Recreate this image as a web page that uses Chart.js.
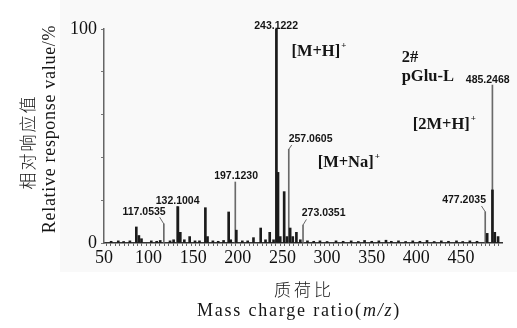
<!DOCTYPE html>
<html>
<head>
<meta charset="utf-8">
<script src="https://cdn.jsdelivr.net/npm/chart.js@4.4.1/dist/chart.umd.min.js"></script>
<style>
  html, body { margin: 0; padding: 0; background: #fff; }
</style>
</head>
<body>
<canvas id="msChart" width="517" height="328"></canvas>
<script>

// stick peaks: m/z and relative intensity (%)
const peakMz = [58, 66, 72, 79, 86.2, 89.1, 92, 103, 109, 113, 124, 128,
    132.8, 135.5, 140, 146, 152, 157, 163.6, 166, 172, 178, 184, 189.7, 192,
    198.3, 205, 211, 217.5, 225.6, 231, 235.7, 240, 243.2, 245, 247.5, 251.9,
    255, 258.6, 261.5, 265.6, 270, 278, 285, 292, 300, 310, 318, 327, 335,
    342, 350, 358, 366, 372, 380, 388, 396, 404, 412, 420, 428, 436, 445,
    452, 460, 468, 479.4, 485.3, 487.9, 491.6];
const peakInt = [0.8, 1, 0.7, 1, 7.5, 3.5, 2, 1, 0.8, 1.2, 1, 1.5,
    17, 5, 1.5, 3, 1, 1, 16.5, 3, 1, 0.8, 1.2, 14.5, 1.5,
    6, 1, 1, 2.5, 7, 1.5, 5, 1.5, 100, 33, 3, 24,
    3, 7, 3, 5, 1.5, 1, 0.8, 1, 0.7, 1, 0.8, 1, 0.7,
    1.2, 0.8, 1, 1.3, 0.8, 1, 0.7, 1, 0.8, 1.2, 0.7, 1, 0.8, 1,
    0.7, 1, 0.8, 4.5, 24.8, 5, 3];

// labelled peaks (thin lines) and their labels
const labelMz = [117.0535, 132.1004, 197.1230, 243.1222, 257.0605, 273.0351, 477.2035, 485.2468];
const labelInt = [8.9, 17, 28.5, 100, 43.8, 8.4, 14.6, 73.8];
const labelText = ['117.0535', '132.1004', '197.1230', '243.1222', '257.0605', '273.0351', '477.2035', '485.2468'];
const labelPosMz = [94.9, 132.5, 198.0, 242.9, 281.5, 296.1, 453.5, 480];
const labelPosInt = [14.5, 19.6, 31.3, 101.4, 48.6, 14.0, 20.1, 76.2];

// short leaders from a peak top to its label
const leaderMz = [[117.0535, 112.3], [257.0605, 260.4], [273.0351, 276.8], [477.2035, 473]];
const leaderInt = [[8.9, 12.1], [43.8, 45.8], [8.4, 11], [14.6, 17.3]];

// ion annotations
const ionText = ['[M+H]', '2#', 'pGlu-L', '[2M+H]', '[M+Na]'];
const ionSup = ['+', '', '', '+', '+'];
const ionMz = [260, 383.6, 383.6, 396, 289.4];
const ionInt = [89.3, 86.4, 77.6, 55.1, 37.4];

const xTicks = [50, 100, 150, 200, 250, 300, 350, 400, 450];
const yTicks = [0, 100];

const SERIF = '"Liberation Serif", "Times New Roman", serif';
const CJK = '"Noto Sans CJK SC", sans-serif';

const textPlugin = {
    id: 'spectrumText',
    beforeDraw(chart) {
        const ctx = chart.ctx;
        ctx.save();
        ctx.fillStyle = '#f9f9f9';
        ctx.fillRect(60, 0, chart.width - 60, 272);
        ctx.restore();
    },
    afterDraw(chart) {
        const ctx = chart.ctx;
        const x = chart.scales.x, y = chart.scales.y;
        ctx.save();
        ctx.fillStyle = '#151515';
        ctx.textBaseline = 'middle';

        // peak labels
        ctx.textAlign = 'center';
        ctx.font = 'bold 10.5px "Liberation Sans", Arial, sans-serif';
        labelText.forEach((t, i) => {
            ctx.fillText(t, x.getPixelForValue(labelPosMz[i]), y.getPixelForValue(labelPosInt[i]));
        });

        // ion names
        ctx.textAlign = 'left';
        ionText.forEach((t, i) => {
            const px = x.getPixelForValue(ionMz[i]);
            const py = y.getPixelForValue(ionInt[i]);
            ctx.font = 'bold 16.5px ' + SERIF;
            ctx.fillText(t, px, py);
            if (ionSup[i]) {
                const w = ctx.measureText(t).width;
                ctx.font = 'bold 9px ' + SERIF;
                ctx.fillText(ionSup[i], px + w + 1, py - 6);
            }
        });

        // y title, two lines
        ctx.textAlign = 'center';
        ctx.save();
        ctx.translate(28, 142);
        ctx.rotate(-Math.PI / 2);
        ctx.font = '300 17px ' + CJK;
        ctx.letterSpacing = '2px';
        ctx.fillText('相对响应值', 0, 0);
        ctx.restore();

        ctx.save();
        ctx.translate(50, 129);
        ctx.rotate(-Math.PI / 2);
        ctx.font = '18px ' + SERIF;
        ctx.letterSpacing = '0.7px';
        ctx.fillText('Relative response value/%', 0, 0);
        ctx.restore();

        // x title, two lines
        ctx.save();
        ctx.font = '300 17px ' + CJK;
        ctx.letterSpacing = '3px';
        ctx.fillText('质荷比', 304, 290);
        ctx.restore();

        ctx.save();
        ctx.letterSpacing = '1.8px';
        ctx.textAlign = 'left';
        const parts = [['Mass charge ratio(', '18px '], ['m/z', 'italic 18px '], [')', '18px ']];
        let total = 0;
        parts.forEach(p => { ctx.font = p[1] + SERIF; total += ctx.measureText(p[0]).width; });
        let cx = 299 - total / 2;
        parts.forEach(p => {
            ctx.font = p[1] + SERIF;
            ctx.fillText(p[0], cx, 311);
            cx += ctx.measureText(p[0]).width;
        });
        ctx.restore();

        ctx.restore();
    }
};

const leaderSets = leaderMz.map((pair, i) => ({
    type: 'line',
    label: 'leader ' + labelText[i],
    data: pair.map((m, j) => ({ x: m, y: leaderInt[i][j] })),
    borderColor: '#6a6a6a',
    borderWidth: 1,
    pointRadius: 0,
    fill: false,
    order: 0
}));

new Chart(document.getElementById('msChart'), {
    type: 'bar',
    data: {
        datasets: [
            {
                label: 'peaks',
                data: peakMz.map((m, i) => ({ x: m, y: peakInt[i] })),
                backgroundColor: '#1b1b1b',
                barThickness: 2,
                grouped: false,
                order: 1
            },
            {
                label: 'labelled peaks',
                data: labelMz.map((m, i) => ({ x: m, y: labelInt[i] })),
                backgroundColor: '#6a6a6a',
                barThickness: 1,
                grouped: false,
                order: 2
            },
            ...leaderSets
        ]
    },
    options: {
        responsive: false,
        animation: false,
        layout: { padding: { top: 29, right: 15, left: 0, bottom: 0 } },
        plugins: {
            legend: { display: false },
            tooltip: { enabled: false }
        },
        scales: {
            x: {
                type: 'linear',
                min: 50,
                max: 496,
                offset: false,
                ticks: {
                    stepSize: 5,
                    maxTicksLimit: 200,
                    autoSkip: false,
                    includeBounds: false,
                    maxRotation: 0,
                    padding: 1,
                    color: '#111',
                    font: { family: SERIF, size: 18 },
                    callback: v => xTicks.includes(v) ? String(v) : ''
                },
                grid: { drawOnChartArea: false, drawTicks: true, tickLength: 3, tickColor: '#666' },
                border: { color: '#333', width: 1.5 },
                afterFit: s => { s.height = 85; }
            },
            y: {
                min: 0,
                max: 100,
                ticks: {
                    stepSize: 10,
                    padding: 4,
                    color: '#111',
                    font: { family: SERIF, size: 18 },
                    callback: v => yTicks.includes(v) ? String(v) : ''
                },
                grid: { drawOnChartArea: false, drawTicks: true, tickLength: 3, tickColor: '#777' },
                border: { color: '#666', width: 1.5 },
                afterFit: s => { s.width = 104; }
            }
        }
    },
    plugins: [textPlugin]
});
</script>
</body>
</html>
